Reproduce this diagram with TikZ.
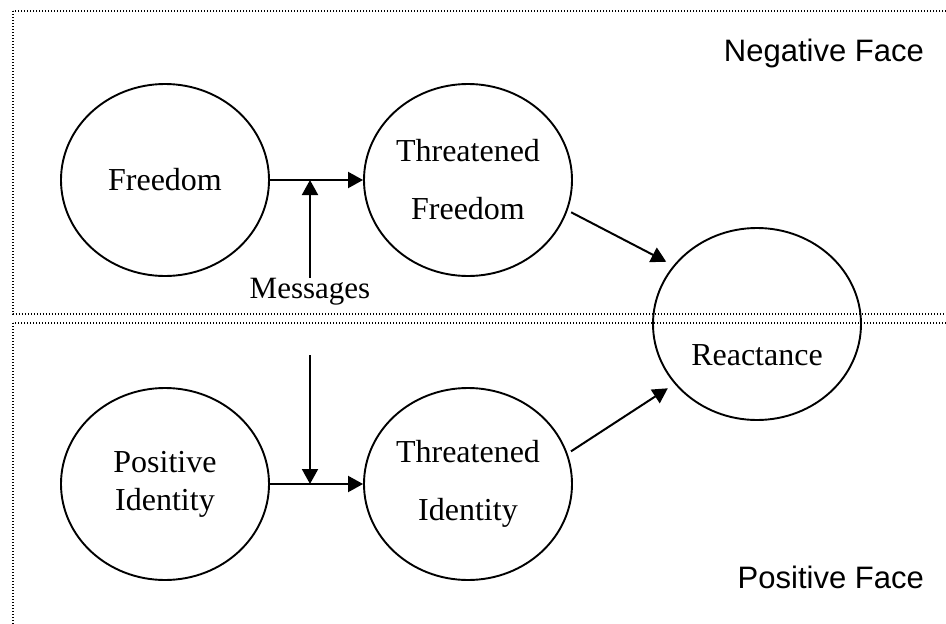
\documentclass[tikz,border=0pt]{standalone}
\usepackage{fontspec}
\setmainfont{Liberation Serif}
\setsansfont{Liberation Sans}
\usepackage{tikz}
\usetikzlibrary{arrows.meta,shapes.geometric}

\begin{document}
\begin{tikzpicture}[x=1pt,y=-1pt,
  bubble/.style={draw,ellipse,line width=1.9pt,minimum width=208pt,minimum height=192pt,
    inner sep=0pt,align=center,font=\fontsize{32}{58}\selectfont},
  facebox/.style={draw=black,line width=1.5pt,dash pattern=on 1.4pt off 1.6pt},
  facelbl/.style={anchor=base east,inner sep=0pt,font=\sffamily\fontsize{31}{37}\selectfont},
  txt/.style={inner sep=0pt,font=\fontsize{31}{37}\selectfont},
  link/.style={line width=2pt,-{Triangle[length=15pt,width=16pt]}}]
\useasboundingbox (0,0) rectangle (946,624);
\clip (0,0) rectangle (946,624);
\draw[facebox] (13,11) rectangle (970,314);
\draw[facebox] (13,323) rectangle (970,650);
\node[facelbl] (neg) at (924,61) {Negative Face};
\node[facelbl] (pos) at (924,588) {Positive Face};
\node[bubble] (free) at (165,180) {Freedom};
\node[bubble] (tfree) at (468,180) {Threatened\\Freedom};
\node[bubble] (react) at (757,324) {};
\node[txt,font=\fontsize{32}{37}\selectfont,anchor=base] (reactlbl) at (757,365) {Reactance};
\node[bubble,font=\fontsize{32}{38}\selectfont] (pid) at (165,484) {Positive\\Identity};
\node[bubble] (tid) at (468,484) {Threatened\\Identity};
\node[txt,anchor=base] (msg) at (310,298) {Messages};
\coordinate (msgin) at (310,355);
\draw[link] (free) -- (tfree);
\draw[link] (msg.north) -- (msg.north |- free.east);
\draw[link] (pid) -- (tid);
\draw[link] (msgin) -- (msgin |- pid.east);
\draw[link,shorten <=4pt,shorten >=8pt] (tfree.-17) -- (react.145);
\draw[link,shorten <=4pt,shorten >=8pt] (tid.17) -- (react.-144);
\end{tikzpicture}
\end{document}
